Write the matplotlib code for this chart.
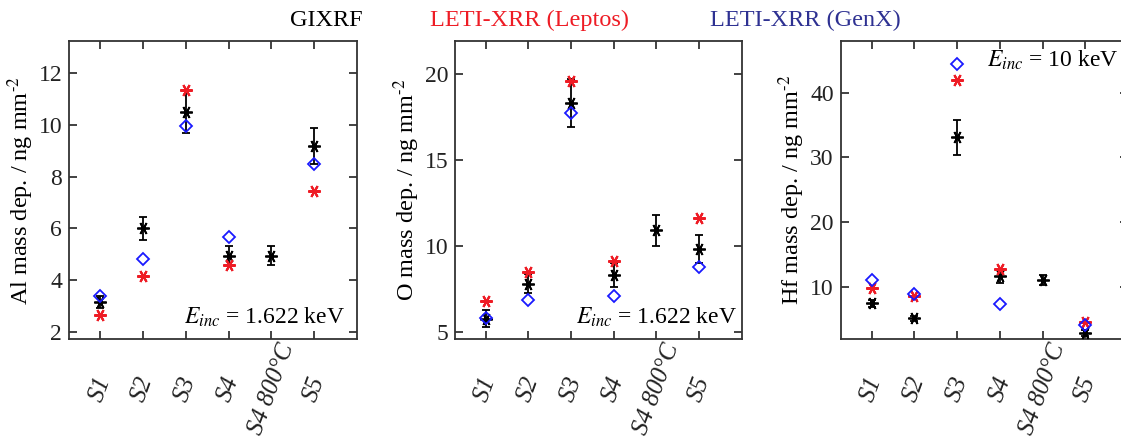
import numpy as np
import matplotlib
matplotlib.use('Agg')
import matplotlib.pyplot as plt

plt.rcParams['font.family'] = ['Liberation Serif', 'DejaVu Serif']
plt.rcParams['mathtext.fontset'] = 'stix'

samples = ['S1', 'S2', 'S3', 'S4', 'S4 800°C', 'S5']
nan = np.nan

# Al
al_gixrf = [3.15, 6.0, 10.5, 4.95, 4.95, 9.2]
al_gixrf_err = [0.22, 0.45, 0.8, 0.35, 0.38, 0.7]
al_leptos = [2.65, 4.15, 11.35, 4.6, nan, 7.45]
al_genx = [3.4, 4.8, 9.95, 5.65, nan, 8.5]

# O
o_gixrf = [5.75, 7.8, 18.3, 8.3, 10.9, 9.8]
o_gixrf_err = [0.5, 0.57, 1.4, 0.7, 0.9, 0.8]
o_leptos = [6.8, 8.45, 19.6, 9.1, nan, 11.6]
o_genx = [5.8, 6.85, 17.7, 7.05, nan, 8.75]

# Hf
hf_gixrf = [7.4, 5.1, 33.1, 11.6, 11.0, 2.8]
hf_gixrf_err = [0.5, 0.4, 2.7, 1.0, 0.8, 0.5]
hf_leptos = [9.8, 8.6, 41.9, 12.8, nan, 4.5]
hf_genx = [11.0, 8.8, 44.5, 7.3, nan, 4.0]

red = '#ee1c25'
blue = '#1a1aff'
navy = '#2e3192'
star = (6, 2, 90)

fig = plt.figure(figsize=(11.21, 4.36), dpi=100)

panels = [
    dict(rect=[0.0616, 0.2225, 0.257, 0.6835], g=al_gixrf, ge=al_gixrf_err,
         l=al_leptos, b=al_genx, ylim=(1.72, 13.25), yticks=[2, 4, 6, 8, 10, 12],
         ylabel='Al mass dep. / ng mm$^{\\text{-2}}$',
         txt=r'$E_{inc}$ = 1.622 keV', tx=0.958, ty=0.05, ha='right'),
    dict(rect=[0.406, 0.2225, 0.2557, 0.6835], g=o_gixrf, ge=o_gixrf_err,
         l=o_leptos, b=o_genx, ylim=(4.58, 21.9), yticks=[5, 10, 15, 20],
         ylabel='O mass dep. / ng mm$^{\\text{-2}}$',
         txt=r'$E_{inc}$ = 1.622 keV', tx=0.984, ty=0.05, ha='right'),
    dict(rect=[0.750, 0.2225, 0.2565, 0.6835], g=hf_gixrf, ge=hf_gixrf_err,
         l=hf_leptos, b=hf_genx, ylim=(1.9, 48), yticks=[10, 20, 30, 40],
         ylabel='Hf mass dep. / ng mm$^{\\text{-2}}$',
         txt=r'$E_{inc}$ = 10 keV', tx=0.9645, ty=0.913, ha='right'),
]

x = np.arange(1, len(samples) + 1)

for p in panels:
    ax = fig.add_axes(p['rect'])
    ax.errorbar(x, p['g'], yerr=p['ge'], fmt='none', ecolor='black',
                elinewidth=1.3, capsize=3, capthick=1.3, zorder=2)
    ax.plot(x, p['g'], linestyle='none', marker=star, color='black',
            markersize=9, markeredgewidth=1.3, zorder=3)
    ax.plot(x, p['l'], linestyle='none', marker=star, color=red,
            markersize=9, markeredgewidth=1.5, zorder=4)
    ax.plot(x, p['b'], linestyle='none', marker='D', markerfacecolor='none',
            markeredgecolor=blue, markersize=6, markeredgewidth=1.3, zorder=5)
    ax.set_xlim(0.28, 7.0)
    ax.set_ylim(*p['ylim'])
    ax.set_yticks(p['yticks'])
    ax.set_xticks(x)
    ax.set_xticklabels(samples, rotation=70, ha='center', va='center',
                       rotation_mode='anchor', fontstyle='italic', fontsize=18)
    ax.tick_params(axis='both', direction='in', top=True, right=True,
                   length=6, width=1.2, labelsize=17, colors='#222222')
    ax.tick_params(axis='x', pad=36, labelsize=18)
    ax.tick_params(axis='y', pad=5)
    for s in ax.spines.values():
        s.set_linewidth(1.3)
        s.set_color('#333333')
    ax.set_ylabel(p['ylabel'], fontsize=17.5, labelpad=2)
    ax.text(p['tx'], p['ty'], p['txt'], transform=ax.transAxes, fontsize=17,
            ha=p['ha'], va='baseline')

fig.text(0.3235, 0.954, 'GIXRF', color='black', fontsize=17.5, ha='right', va='center')
fig.text(0.384, 0.954, 'LETI-XRR (Leptos)', color=red, fontsize=17.5, ha='left', va='center')
fig.text(0.633, 0.954, 'LETI-XRR (GenX)', color=navy, fontsize=17.5, ha='left', va='center')

fig.savefig('out.png', dpi=100)
